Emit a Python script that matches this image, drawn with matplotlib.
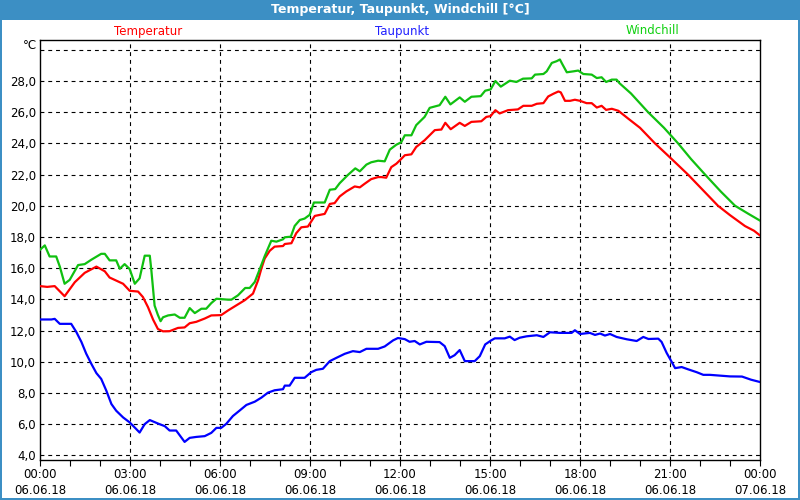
import matplotlib
matplotlib.use("Agg")
import matplotlib.pyplot as plt
from matplotlib.patches import Rectangle
import numpy as np

# ---- data (hours since 06.06.18 00:00, °C) ----
temp_h = [0, 0.24, 0.49, 0.82, 1.16, 1.49, 1.88, 2.16, 2.32, 2.77, 2.99, 3.27, 3.43, 3.6, 3.77, 3.93, 4.1,
          4.32, 4.6, 4.82, 4.99, 5.21, 5.49, 5.71, 6.04, 6.27, 6.54, 6.82, 7.1, 7.27, 7.38, 7.49, 7.66, 7.82, 8.1,
          8.16, 8.38, 8.54, 8.71, 8.93, 9.04, 9.16, 9.49, 9.66, 9.82, 9.99, 10.21, 10.49, 10.66, 10.82, 11.04,
          11.27, 11.38, 11.54, 11.71, 11.88, 12.04, 12.16, 12.38, 12.54, 12.82, 13.16, 13.38, 13.51, 13.69,
          13.99, 14.16, 14.38, 14.71, 14.88, 15.02, 15.18, 15.32, 15.6, 15.93, 16.11, 16.39, 16.56, 16.78,
          16.94, 17.11, 17.28, 17.36, 17.5, 17.67, 17.83, 18.0, 18.22, 18.39, 18.56, 18.72, 18.87, 19.06,
          19.28, 19.6, 20.0, 20.5, 21.0, 21.6, 22.1, 22.6, 23.0, 23.5, 23.8, 24.0]
temp_v = [14.85, 14.8, 14.85, 14.2, 15.1, 15.7, 16.1, 15.8, 15.4, 15.0, 14.55, 14.5, 14.15, 13.5, 12.7, 12.1, 11.95,
          11.96, 12.17, 12.2, 12.47, 12.56, 12.77, 12.97, 12.99, 13.29, 13.61, 13.94, 14.37, 15.23, 15.98, 16.62,
          17.12, 17.38, 17.42,
          17.55, 17.6, 18.24, 18.62, 18.67, 18.99, 19.35, 19.48, 20.12, 20.17, 20.6, 20.92, 21.24, 21.18, 21.41,
          21.71, 21.84, 21.84, 21.8, 22.48, 22.7, 23.0, 23.24, 23.3, 23.77, 24.2, 24.85, 24.89, 25.32, 24.91,
          25.32, 25.12, 25.38, 25.42, 25.7, 25.75, 26.13, 25.92, 26.13, 26.18, 26.41, 26.41, 26.54, 26.58,
          27.01, 27.18, 27.33, 27.27, 26.73, 26.73, 26.8, 26.73, 26.58, 26.58, 26.3, 26.41, 26.15, 26.22,
          26.09, 25.6, 25.0, 24.0, 23.1, 22.0, 21.0, 20.0, 19.4, 18.7, 18.4, 18.1]

chill_h = [0, 0.16, 0.32, 0.54, 0.66, 0.82, 0.99, 1.27, 1.49, 1.71, 2.04, 2.16, 2.32, 2.54, 2.66, 2.82, 2.99,
           3.16, 3.32, 3.49, 3.66, 3.71, 3.82, 3.93, 4.02, 4.1,
           4.27, 4.49, 4.66, 4.82, 4.99, 5.16, 5.38, 5.54, 5.71, 5.88, 6.27, 6.38, 6.6, 6.84, 6.99, 7.16, 7.32,
           7.49, 7.71, 7.88, 8.1,
           8.16, 8.36, 8.49, 8.66, 8.82, 8.99, 9.13, 9.49, 9.66, 9.84, 9.99, 10.27, 10.51, 10.66, 10.88, 11.04,
           11.27, 11.49, 11.66, 11.88, 12.04,
           12.16, 12.38, 12.54, 12.82, 12.99, 13.32, 13.51, 13.68, 13.99, 14.16, 14.38, 14.69, 14.84, 15.02,
           15.18, 15.36, 15.66, 15.88, 16.1,
           16.39, 16.5, 16.78, 16.89, 17.06, 17.22, 17.33, 17.42, 17.56, 17.78, 17.94, 18.11, 18.39, 18.56,
           18.72, 18.87, 19.06, 19.22, 19.31,
           19.7, 20.27, 20.8, 21.27, 21.7, 22.17, 22.7, 23.17, 23.6, 24.0]
chill_v = [17.18, 17.46, 16.75, 16.75, 16.1, 15.0, 15.25, 16.2, 16.26, 16.54, 16.92, 16.92, 16.5, 16.5, 15.96,
           16.26, 15.94, 15.0, 15.35, 16.8, 16.8, 15.9, 13.6, 13.0, 12.6, 12.85,
           12.97, 13.03, 12.82, 12.82, 13.44, 13.12, 13.4, 13.4, 13.76, 14.04, 13.98, 13.98, 14.26, 14.73, 14.73,
           15.12, 15.91, 16.77, 17.76, 17.7, 17.85,
           17.98, 18.02, 18.71, 19.09, 19.18, 19.42, 20.21, 20.21, 21.03, 21.07, 21.45, 21.99, 22.4, 22.21, 22.64,
           22.79, 22.89, 22.85, 23.6, 23.92, 24.07,
           24.52, 24.52, 25.17, 25.7, 26.28, 26.45, 26.99, 26.5, 26.95, 26.67, 26.99, 27.03, 27.38, 27.46,
           28.0, 27.64, 28.02, 27.94, 28.15,
           28.17, 28.41, 28.45, 28.62, 29.16, 29.27, 29.38, 29.05, 28.56, 28.62, 28.67, 28.45, 28.41, 28.19,
           28.24, 27.94, 28.09, 28.09, 27.87,
           27.2, 26.0, 25.0, 24.0, 23.0, 22.0, 20.9, 20.0, 19.5, 19.05]

dew_h = [0, 0.38, 0.49, 0.66, 1.04, 1.21, 1.38, 1.54, 1.71, 1.88, 2.04, 2.21, 2.38, 2.54, 2.77, 2.99, 3.21, 3.32,
         3.49, 3.66, 3.93,
         4.16, 4.32, 4.54, 4.82, 4.99, 5.21, 5.49, 5.71, 5.88, 6.04, 6.21, 6.43, 6.66, 6.88, 7.16, 7.38, 7.6,
         7.82, 8.1,
         8.16, 8.32, 8.49, 8.82, 9.04, 9.21, 9.43, 9.66, 9.88, 10.16, 10.43, 10.66, 10.88, 11.27, 11.49, 11.77,
         11.93,
         12.16, 12.32, 12.49, 12.66, 12.88, 13.32, 13.49, 13.66, 13.82, 13.99, 14.16, 14.49, 14.66, 14.84,
         15.04, 15.16, 15.49, 15.66, 15.82, 15.99,
         16.22, 16.56, 16.78, 17.0, 17.33, 17.72, 17.83, 18.0, 18.33, 18.5, 18.67, 18.83, 19.0, 19.22, 19.56,
         19.89, 20.11, 20.28, 20.61, 20.72, 20.89, 21.06, 21.17, 21.39, 21.61, 21.89, 22.11, 22.33,
         23.0, 23.4, 23.7, 24.0]
dew_v = [12.71, 12.71, 12.75, 12.43, 12.43, 11.91, 11.27, 10.52, 9.87, 9.27, 8.9, 8.15, 7.29, 6.86, 6.43, 6.11,
         5.68, 5.46, 6.0, 6.26, 6.04,
         5.87, 5.59, 5.59, 4.86, 5.12, 5.18, 5.23, 5.44, 5.76, 5.76, 6.02, 6.52, 6.88, 7.23, 7.44, 7.7, 8.02,
         8.17, 8.24,
         8.47, 8.47, 8.97, 8.97, 9.33, 9.48, 9.55, 10.04, 10.25, 10.51, 10.68, 10.62, 10.83, 10.83, 10.98, 11.37,
         11.52,
         11.45, 11.28, 11.33, 11.11, 11.28, 11.26, 11.0, 10.25, 10.42, 10.75, 10.04, 10.04, 10.36, 11.11,
         11.37, 11.5, 11.5, 11.61, 11.39, 11.54,
         11.63, 11.7, 11.59, 11.89, 11.85, 11.85, 12.02, 11.78, 11.85, 11.72, 11.81, 11.68, 11.78, 11.59, 11.44,
         11.33, 11.59, 11.46, 11.48, 11.27, 10.56, 9.98, 9.59, 9.66, 9.51, 9.33, 9.16, 9.16,
         9.06, 9.05, 8.85, 8.7]

series_names = ["Temperatur", "Taupunkt", "Windchill"]
series_colors = ["#ff0000", "#0000ff", "#10c010"]
label_colors = ["#ff0000", "#2020ff", "#10d010"]
title = "Temperatur, Taupunkt, Windchill [°C]"
y_ticks = [4, 6, 8, 10, 12, 14, 16, 18, 20, 22, 24, 26, 28]
x_major = [0, 3, 6, 9, 12, 15, 18, 21, 24]
x_labels = ["00:00\n06.06.18", "03:00\n06.06.18", "06:00\n06.06.18", "09:00\n06.06.18",
            "12:00\n06.06.18", "15:00\n06.06.18", "18:00\n06.06.18", "21:00\n06.06.18",
            "00:00\n07.06.18"]

frame_blue = "#3c8fc4"

fig = plt.figure(figsize=(8, 5), dpi=100)
fig.patch.set_facecolor("white")

# title bar and frame
fig.patches.append(Rectangle((0, 1 - 20 / 500), 1, 20 / 500, transform=fig.transFigure,
                             facecolor=frame_blue, edgecolor="none", zorder=0))
fig.patches.append(Rectangle((0, 0), 2 / 800, 1, transform=fig.transFigure,
                             facecolor=frame_blue, edgecolor="none"))
fig.patches.append(Rectangle((1 - 2 / 800, 0), 2 / 800, 1, transform=fig.transFigure,
                             facecolor=frame_blue, edgecolor="none"))
fig.patches.append(Rectangle((0, 0), 1, 2 / 500, transform=fig.transFigure,
                             facecolor=frame_blue, edgecolor="none"))
fig.text(0.5, 1 - 10 / 500, title, color="white", fontsize=9, fontweight="bold",
         ha="center", va="center")

ax = fig.add_axes([40 / 800, 40 / 500, 720 / 800, 420 / 500])
ax.set_xlim(0, 24)
ax.set_ylim(3.7, 30.63)

ax.plot(temp_h, temp_v, color=series_colors[0], lw=1.6, zorder=3)
ax.plot(dew_h, dew_v, color=series_colors[1], lw=1.6, zorder=3)
ax.plot(chill_h, chill_v, color=series_colors[2], lw=1.6, zorder=3)

# grid
for y in y_ticks + [30]:
    ax.axhline(y, color="black", lw=0.8, ls=(0, (3.5, 3.5)), zorder=1)
for x in x_major[1:-1]:
    ax.axvline(x, color="black", lw=0.8, ls=(0, (3.5, 3.5)), zorder=1)

ax.set_yticks(y_ticks)
ax.set_yticklabels([f"{v:.1f}".replace(".", ",") for v in y_ticks], fontsize=8.5)
ax.tick_params(axis="y", length=0, pad=3)
ax.set_xticks(x_major)
ax.set_xticklabels(x_labels, fontsize=8.5, linespacing=1.3)
ax.set_xticks(np.arange(0, 25, 1), minor=True)
ax.tick_params(axis="x", which="both", length=4, width=0.8, direction="out", pad=2)
for s in ax.spines.values():
    s.set_linewidth(1.0)
    s.set_color("black")

ax.text(-0.004, 30.25, "°C", transform=ax.get_yaxis_transform(), ha="right", va="center", fontsize=8.5)

# series labels above axes
label_x = [148 / 800, 402 / 800, 652 / 800]
for name, c, lx in zip(series_names, label_colors, label_x):
    fig.text(lx, 1 - 31 / 500, name, color=c, fontsize=8.5, ha="center", va="center")

fig.savefig("out.png", dpi=100)
